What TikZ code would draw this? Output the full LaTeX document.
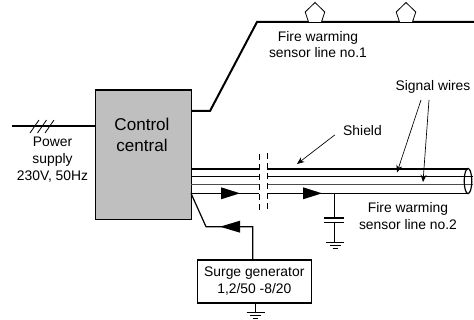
\documentclass[tikz,border=0pt]{standalone}
\usepackage{fontspec}
\setmainfont{Liberation Sans}
\usetikzlibrary{arrows.meta}
\tikzset{
  heavy/.style={line width=1.5pt,line join=miter},
  medium/.style={line width=0.9pt},
  wire/.style={line width=0.6pt},
  thin wire/.style={line width=0.55pt},
  cut/.style={line width=0.55pt,dash pattern=on 4.5pt off 3pt},
  leader/.style={line width=0.5pt,-{Stealth[length=5.5pt,width=4.5pt]}},
  caption/.style={align=center,font=\fontsize{10.4}{12.6}\selectfont,inner sep=0pt},
  tri/.style={fill=black,draw=none},
}
\newcommand{\rtri}[2]{\fill[tri] (#1,#2-6) -- (#1+19,#2) -- (#1,#2+6) -- cycle;}
\newcommand{\ltri}[2]{\fill[tri] (#1,#2-6) -- (#1-20,#2) -- (#1,#2+6) -- cycle;}
\newcommand{\gnd}[2]{\draw[wire] (#1-9,#2) -- (#1+9,#2) (#1-5.5,#2+3) -- (#1+5.5,#2+3) (#1-2.5,#2+6) -- (#1+2.5,#2+6);}
\begin{document}
\begin{tikzpicture}[x=0.75pt,y=-0.75pt]
\useasboundingbox (0,0) rectangle (474,320);
% boxes
\node[draw=black,line width=0.9pt,fill=black!25,minimum width=96pt*0.75,minimum height=129.5pt*0.75,inner sep=0pt,anchor=north west] (ctrl) at (95,89.5) {};
\node[font=\fontsize{12.8}{15.5}\selectfont,align=center,inner sep=0pt] (ctrltext) at (142,135) {Control\\central};
\node[draw=black,line width=0.9pt,fill=white,minimum width=114pt*0.75,minimum height=43pt*0.75,inner sep=0pt,anchor=north west,
  caption] (surge) at (196.7,259.3) {Surge generator\\1,2/50 -8/20};
% power
\coordinate (pw) at (12,126.5);
\coordinate (pe) at (95,126.5);
\draw[heavy] (pw) -- (pe);
\draw[wire] (30,133) -- (39,120) (37.5,133) -- (46.5,120) (45,133) -- (54,120);
\node[caption] (power) at (52.5,159.5) {Power\\supply\\230V, 50Hz};
% sensor line 1
\coordinate (l1) at (191,111);
\coordinate (l2) at (210,111);
\coordinate (l3) at (257,22);
\coordinate (l4) at (474,22);
\draw[heavy] (l1) -- (l2) -- (l3) -- (l4);
\foreach \cx in {315,406}{
  \draw[wire,fill=white] (\cx-6.5,22) -- (\cx-9.8,12) -- (\cx,2.5) -- (\cx+9.8,12) -- (\cx+6.5,22);
}
\node[caption] (t1) at (318,44.5) {Fire warming\\sensor line no.1};
% cable
\coordinate (a1) at (191,169); \coordinate (a2) at (259,169);
\coordinate (b1) at (267,169); \coordinate (b2) at (468,169);
\coordinate (c1) at (191,176.3); \coordinate (c2) at (259,176.3);
\coordinate (d1) at (267,176.3); \coordinate (d2) at (473,176.3);
\coordinate (e1) at (191,184); \coordinate (e2) at (259,184);
\coordinate (f1) at (267,184); \coordinate (f2) at (473,184);
\coordinate (g1) at (191,193.3); \coordinate (g2) at (259,193.3);
\coordinate (h1) at (267,193.3); \coordinate (h2) at (468,193.3);
\draw[heavy,line width=1.3pt] (a1) -- (a2) (b1) -- (b2);
\draw[thin wire] (c1) -- (c2) (d1) -- (d2);
\draw[thin wire,black!70] (e1) -- (e2) (f1) -- (f2);
\draw[heavy,line width=1.1pt] (g1) -- (g2) (h1) -- (h2);
\draw[medium] (468,181) ellipse (3.8 and 12.6);
\draw[cut] (259,154) -- (259,210);
\draw[cut] (267,153) -- (267,210);
\rtri{221}{193.3}
\rtri{303}{193.3}
% capacitor
\coordinate (cap) at (334,193.3);
\coordinate (capa) at (334,218);
\coordinate (capb) at (334,222.5);
\coordinate (capg) at (334,242);
\draw[wire] (cap) -- (capa) (capb) -- (capg);
\draw[medium] (324,218) -- (344,218) (324,222.5) -- (344,222.5);
\gnd{335}{242}
% surge
\coordinate (s0) at (191,193.3);
\coordinate (s1) at (206,226.7);
\coordinate (s2) at (252.7,226.7);
\draw[medium] (s0) -- (s1) -- (s2) -- (s2 |- surge.north);
\ltri{240}{226.7}
\coordinate (sg) at (255.5,312);
\draw[medium] (sg |- surge.south) -- (sg);
\gnd{255.5}{312}
% labels
\node[caption] (shield) at (362.5,131) {Shield};
\coordinate (shtip) at (297,164);
\draw[leader] (334.7,135) -- (shtip);
\node[caption] (signal) at (433,87) {Signal wires};
\coordinate (sw1) at (397,172.5);
\coordinate (sw2) at (423,182);
\draw[leader] (421,100) -- (sw1);
\draw[leader] (429,100) -- (sw2);
\node[caption] (t2) at (408,216) {Fire warming\\sensor line no.2};
\end{tikzpicture}
\end{document}
